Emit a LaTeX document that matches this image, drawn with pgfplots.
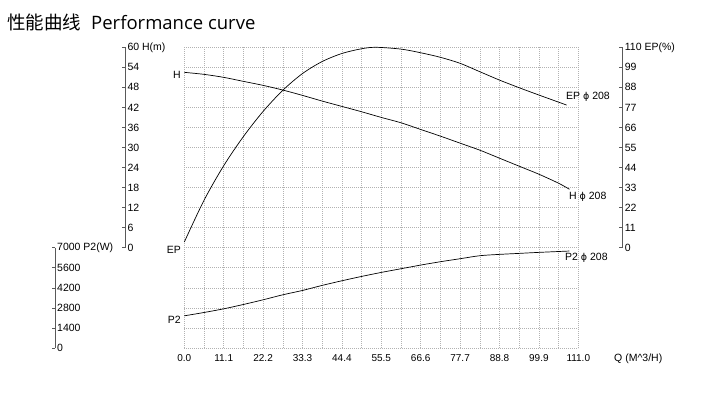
\documentclass[border=0pt]{standalone}
\usepackage{fontspec}
\setmainfont{Liberation Sans}
\newfontfamily\cjk{Noto Sans CJK SC}
\newfontfamily\titlefont{Open Sans}
\newfontfamily\dejavu{DejaVu Sans}
\usepackage{pgfplots}
\usepackage{pgfplotstable}
\pgfplotsset{compat=1.18}

\pgfplotstableread{
Q H
0 52.5
5.55 51.9
11.1 51.0
16.65 49.8
22.2 48.6
27.75 47.2
33.3 45.6
38.85 43.9
44.4 42.3
49.95 40.7
55.5 39.0
61.05 37.4
66.6 35.4
72.15 33.4
77.7 31.3
83.25 29.2
88.8 26.8
94.35 24.4
99.9 22.0
105.45 19.3
108.5 17.5
}\Hdata

\pgfplotstableread{
Q EP
0 3.1
5.55 26.0
11.1 45.0
16.65 61.0
22.2 74.8
27.75 86.4
33.3 95.6
38.85 102.2
44.4 106.6
49.95 109.2
54 110
61.05 109
66.6 107
72.15 104.5
77.7 101.2
83.25 96.6
88.8 92.0
94.35 87.8
99.9 83.8
107.7 78.3
}\EPdata

\pgfplotstableread{
Q P
0 2240
5.55 2473
11.1 2730
16.65 3033
22.2 3360
27.75 3710
33.3 4013
38.85 4367
44.4 4690
49.95 4993
55.5 5273
61.05 5530
66.6 5787
72.15 6020
77.7 6230
83.25 6440
88.8 6533
94.35 6603
99.9 6673
108.5 6767
}\Pdata

\pgfplotsset{
  scalebar/.style={
    scale only axis, width=8pt, xmin=0, xmax=1,
    axis x line=none, axis y line=right,
    y axis line style={-, draw=black!65, line width=0.5pt},
    ytick style={draw=black!65, line width=0.5pt},
    tick align=inside, major tick length=3.5pt,
    yticklabel style={font=\fontsize{10.5}{12}\selectfont, inner xsep=2pt, anchor=west},
  }
}

\begin{document}
\begin{tikzpicture}
\path[use as bounding box] (0,0) rectangle (723pt,393pt);

% main plot
\begin{axis}[
  at={(184.3pt,45.1pt)}, anchor=south west,
  scale only axis, width=394pt, height=300.6pt,
  xmin=0, xmax=111, ymin=-30, ymax=60,
  axis line style={draw=none},
  tick style={draw=none},
  xtick={0,11.1,22.2,33.3,44.4,55.5,66.6,77.7,88.8,99.9,111},
  xticklabels={0.0,11.1,22.2,33.3,44.4,55.5,66.6,77.7,88.8,99.9,111.0},
  minor xtick={5.55,16.65,27.75,38.85,49.95,61.05,72.15,83.25,94.35,105.45},
  ytick={-30,-24,...,60},
  yticklabels={},
  grid=both,
  major grid style={gray!60, line width=0.5pt, dash pattern=on 0.8pt off 1.2pt},
  minor grid style={gray!60, line width=0.5pt, dash pattern=on 0.8pt off 1.2pt},
  xticklabel style={font=\fontsize{10}{11}\selectfont, yshift=-3pt},
  clip=false,
]
\addplot[black, line width=0.7pt, smooth] table[x=Q, y=H] {\Hdata};
\addplot[black, line width=0.7pt, smooth] table[x=Q, y expr=\thisrow{EP}*60/110] {\EPdata};
\addplot[black, line width=0.7pt, smooth] table[x=Q, y expr=\thisrow{P}*30/7000-30] {\Pdata};
\end{axis}

% H scale
\begin{axis}[scalebar, at={(125.3pt,145.3pt)}, anchor=south east, height=200.4pt,
  ymin=0, ymax=60, ytick={0,6,...,60},
  yticklabels={0,6,12,18,24,30,36,42,48,54,60 H(m)}]
\end{axis}
% EP scale
\begin{axis}[scalebar, at={(622.7pt,145.3pt)}, anchor=south east, height=200.4pt,
  ymin=0, ymax=110, ytick={0,11,...,110},
  yticklabels={0,11,22,33,44,55,66,77,88,99,110 EP(\%)}]
\end{axis}
% P2 scale
\begin{axis}[scalebar, at={(55pt,45.1pt)}, anchor=south east, height=100.2pt,
  ymin=0, ymax=7000, ytick={0,1400,2800,4200,5600,7000},
  yticklabels={0,1400,2800,4200,5600,7000 P2(W)}]
\end{axis}

% title
\node[anchor=base west, inner sep=0] at (7.3pt,363.7pt) {\cjk\fontsize{18.5}{20}\selectfont 性能曲线};
\node[anchor=base west, inner sep=0] at (91pt,363.7pt) {\titlefont\fontsize{18.5}{20}\selectfont Performance curve};

% curve labels
\begin{scope}[every node/.style={inner sep=0, font=\fontsize{10.5}{12}\selectfont}]
\node[anchor=east] at (181pt,318pt) {H};
\node[anchor=east] at (181pt,143pt) {EP};
\node[anchor=east] at (181pt,73pt) {P2};
\node[anchor=west] at (566pt,296pt) {EP {\dejavu\fontsize{9.5}{11}\selectfont ϕ} 208};
\node[anchor=west] at (569pt,196pt) {H {\dejavu\fontsize{9.5}{11}\selectfont ϕ} 208};
\node[anchor=west] at (565pt,134.7pt) {P2 {\dejavu\fontsize{9.5}{11}\selectfont ϕ} 208};
\node[anchor=west] at (614pt,34pt) {Q (M\textasciicircum 3/H)};
\end{scope}
\end{tikzpicture}
\end{document}
